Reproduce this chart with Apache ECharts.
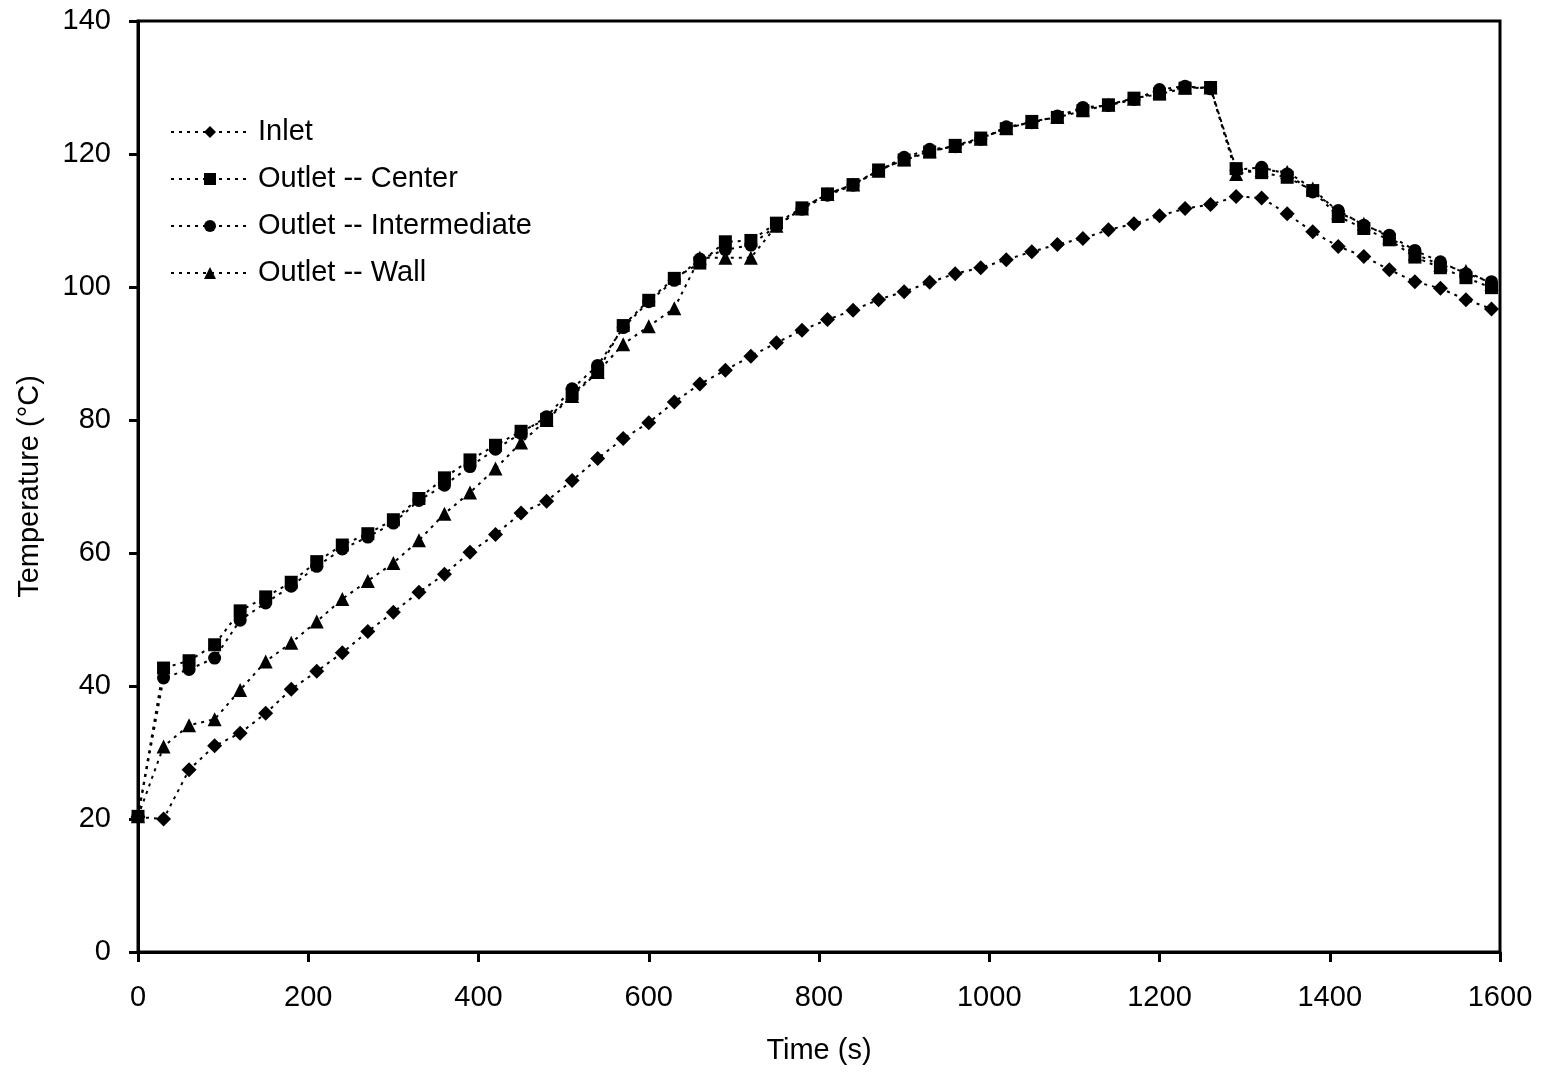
<!DOCTYPE html>
<html>
<head>
<meta charset="utf-8">
<script src="https://cdn.jsdelivr.net/npm/echarts@6/dist/echarts.min.js"></script>
<style>
html,body{margin:0;padding:0;background:#fff;}
#chart{width:1547px;height:1073px;}
</style>
</head>
<body>
<div id="chart"></div>
<script>
// Time stamps (s)
const times = [0,30,60,90,120,150,180,210,240,270,300,330,360,390,420,450,480,510,540,570,600,630,660,690,720,750,780,810,840,870,900,930,960,990,1020,1050,1080,1110,1140,1170,1200,1230,1260,1290,1320,1350,1380,1410,1440,1470,1500,1530,1560,1590];

const inlet = [20.3,20.0,27.4,31.0,32.9,35.9,39.5,42.2,45.0,48.2,
  51.1,54.1,56.8,60.1,62.8,66.0,67.8,70.9,74.2,77.2,
  79.6,82.7,85.4,87.5,89.6,91.6,93.5,95.1,96.5,98.1,
  99.3,100.7,102.0,102.9,104.1,105.3,106.4,107.3,108.6,109.5,
  110.7,111.8,112.4,113.6,113.4,111.0,108.3,106.1,104.6,102.6,
  100.8,99.8,98.1,96.7];

const outletCenter = [20.4,42.7,43.8,46.2,51.3,53.4,55.6,58.7,61.2,62.9,
  65.0,68.2,71.3,74.0,76.2,78.3,80.1,83.9,87.3,94.2,
  98.0,101.3,103.6,106.8,107.0,109.6,111.9,114.0,115.4,117.6,
  119.1,120.3,121.3,122.4,123.8,124.9,125.5,126.5,127.4,128.4,
  129.0,129.9,130.0,117.8,117.2,116.5,114.5,110.6,108.8,107.1,
  104.5,102.9,101.4,99.9];

const outletIntermediate = [20.4,41.2,42.5,44.2,49.9,52.5,55.0,58.0,60.6,62.4,
  64.5,67.9,70.2,73.0,75.6,78.0,80.5,84.7,88.2,93.9,
  97.8,101.0,104.2,105.6,106.3,109.2,111.7,113.8,115.3,117.5,
  119.5,120.7,121.1,122.2,124.1,124.7,125.7,127.0,127.3,128.2,
  129.7,130.2,129.8,117.6,118.0,117.0,114.3,111.5,109.3,107.8,
  105.5,103.8,102.0,100.8];

const outletWall = [20.4,30.9,34.1,35.0,39.4,43.7,46.5,49.7,53.1,55.8,
  58.5,61.9,65.9,69.1,72.7,76.6,80.0,83.6,87.2,91.4,
  94.1,96.8,104.4,104.4,104.4,109.2,111.8,114.0,115.4,117.5,
  119.2,120.4,121.2,122.3,123.9,124.8,125.6,126.7,127.4,128.3,
  129.3,130.0,130.0,117.0,117.6,117.3,114.8,111.2,109.5,107.5,
  105.0,103.3,102.4,100.5];

const seriesNames = ['Inlet','Outlet -- Center','Outlet -- Intermediate','Outlet -- Wall'];
const seriesSymbols = ['diamond','rect','circle','triangle'];
const seriesSizes = [15,13,13,14];
const seriesData = [inlet,outletCenter,outletIntermediate,outletWall];

const FONT = 'Liberation Sans, Arial, sans-serif';

const chart = echarts.init(document.getElementById('chart'), null, {renderer:'canvas'});

const series = seriesNames.map((name,i)=>({
  name: name,
  type: 'line',
  data: times.map((t,j)=>[t, seriesData[i][j]]),
  symbol: seriesSymbols[i],
  symbolSize: seriesSizes[i],
  showAllSymbol: true,
  animation: false,
  itemStyle: {color:'#000', borderWidth:0},
  lineStyle: {color:'#000', width:2, type:[3,5]},
  emphasis: {disabled:true}
}));

chart.setOption({
  backgroundColor:'#fff',
  animation:false,
  grid:{left:138, right:47, top:21, bottom:121, show:true, borderColor:'#000', borderWidth:3, backgroundColor:'transparent'},
  legend:{
    show:true,
    orient:'vertical',
    left:165, top:112,
    itemWidth:78, itemHeight:15,
    itemGap:17,
    data: seriesNames,
    textStyle:{fontFamily:FONT, fontSize:29, color:'#000', lineHeight:30, padding:[0,0,0,4]},
    inactiveColor:'#000'
  },
  xAxis:{
    type:'value', min:0, max:1600, interval:200,
    name:'Time (s)', nameLocation:'middle', nameGap:84,
    nameTextStyle:{fontFamily:FONT, fontSize:29, color:'#000'},
    axisLine:{show:true, onZero:false, lineStyle:{color:'#000', width:3}},
    axisTick:{show:true, inside:false, length:10, lineStyle:{color:'#000', width:3}},
    axisLabel:{fontFamily:FONT, fontSize:29, color:'#000', margin:31, formatter:(v)=>String(v)},
    splitLine:{show:false}
  },
  yAxis:{
    type:'value', min:0, max:140, interval:20,
    name:'Temperature (°C)', nameLocation:'middle', nameGap:94, nameRotate:90,
    nameTextStyle:{fontFamily:FONT, fontSize:29, color:'#000'},
    axisLine:{show:true, onZero:false, lineStyle:{color:'#000', width:3}},
    axisTick:{show:true, inside:false, length:9, lineStyle:{color:'#000', width:3}},
    axisLabel:{fontFamily:FONT, fontSize:29, color:'#000', margin:27, formatter:(v)=>String(v)},
    splitLine:{show:false}
  },
  series: series
});
</script>
</body>
</html>
